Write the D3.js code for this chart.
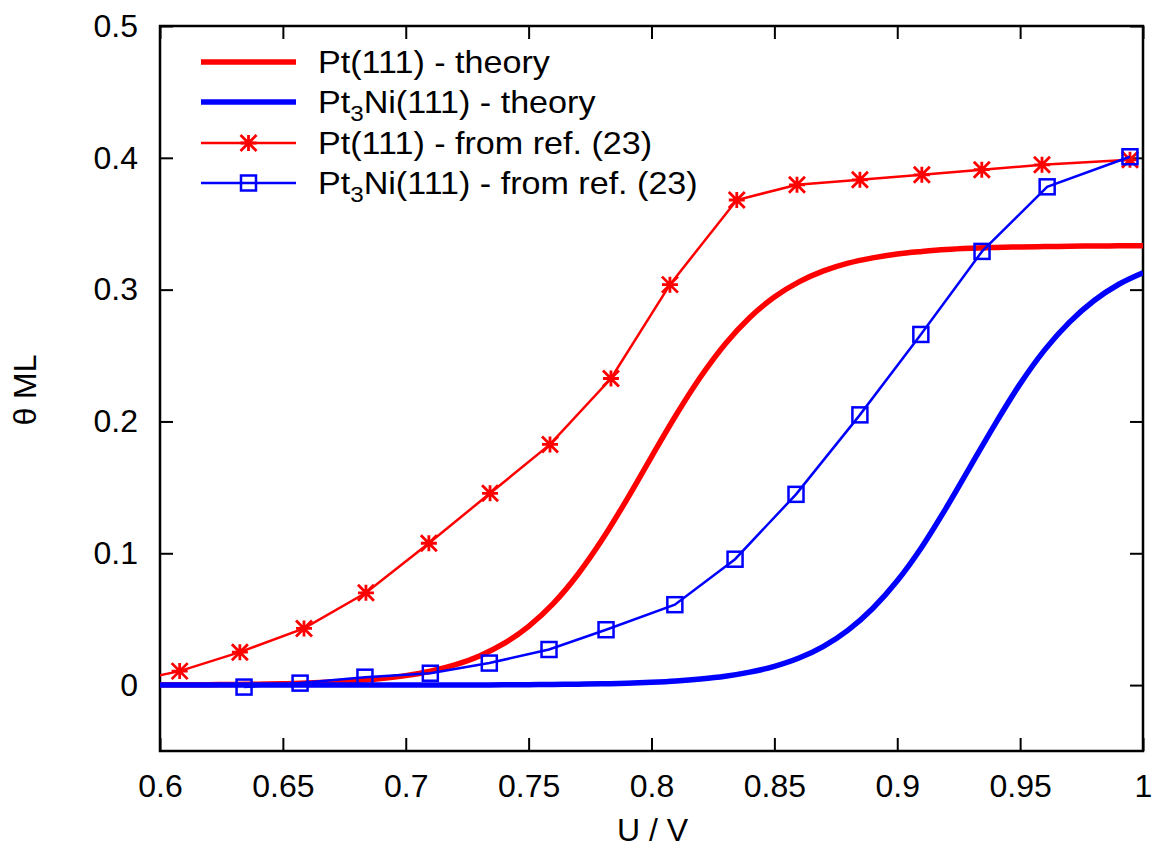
<!DOCTYPE html>
<html>
<head>
<meta charset="utf-8">
<script src="https://cdn.jsdelivr.net/npm/d3@7"></script>
<style>
  html, body { margin: 0; padding: 0; background: #fff; }
  svg { display: block; font-family: "Liberation Sans", Arial, Helvetica, sans-serif; }
</style>
</head>
<body>
<svg id="chart" width="1156" height="848"></svg>
<script>
// ---------- data ----------
const uTheory = [0.60,0.61,0.62,0.63,0.64,0.65,0.66,0.67,0.68,0.69,0.70,0.71,0.72,0.73,0.74,0.75,0.76,0.77,0.78,0.79,0.80,0.81,0.82,0.83,0.84,0.85,0.86,0.87,0.88,0.89,0.90,0.91,0.92,0.93,0.94,0.95,0.96,0.97,0.98,0.99,1.00];
const ptTheory = [0.0002,0.0002,0.0003,0.0005,0.0007,0.0010,0.0015,0.0023,0.0033,0.0049,0.0072,0.0105,0.0153,0.0221,0.0316,0.0446,0.0618,0.0839,0.1106,0.1409,0.1732,0.2049,0.2339,0.2588,0.2789,0.2944,0.3059,0.3142,0.3201,0.3241,0.3271,0.3290,0.3305,0.3314,0.3320,0.3324,0.3327,0.3329,0.3331,0.3332,0.3332];
const pt3niTheory = [0.0000,0.0000,0.0000,0.0000,0.0000,0.0000,0.0000,0.0000,0.0000,0.0000,0.0000,0.0001,0.0001,0.0001,0.0002,0.0003,0.0005,0.0007,0.0010,0.0014,0.0021,0.0031,0.0046,0.0067,0.0098,0.0142,0.0205,0.0294,0.0417,0.0581,0.0791,0.1048,0.1347,0.1667,0.1986,0.2285,0.2543,0.2752,0.2916,0.3039,0.3128];

const ptRefU     = [0.584,0.608,0.6325,0.6586,0.6838,0.7094,0.7343,0.7587,0.7835,0.8075,0.8347,0.8592,0.8848,0.9100,0.9344,0.9589,0.9947];
const ptRefTheta = [0.001,0.0106,0.025,0.043,0.070,0.1076,0.1455,0.1826,0.2326,0.3038,0.368,0.3795,0.3833,0.3871,0.391,0.3947,0.3985];
const ptRefShown = [false,true,true,true,true,true,true,true,true,true,true,true,true,true,true,true,true];

const pt3niRefU     = [0.6342,0.657,0.6834,0.710,0.734,0.7583,0.7815,0.8095,0.834,0.8588,0.8848,0.9096,0.9345,0.961,0.9947];
const pt3niRefTheta = [-0.0015,0.0015,0.006,0.009,0.0167,0.027,0.042,0.061,0.0955,0.1447,0.205,0.266,0.329,0.378,0.4008];

const xTicks = [0.6,0.65,0.7,0.75,0.8,0.85,0.9,0.95,1];
const xTickLabels = ["0.6","0.65","0.7","0.75","0.8","0.85","0.9","0.95","1"];
const yTicks = [0,0.1,0.2,0.3,0.4,0.5];
const yTickLabels = ["0","0.1","0.2","0.3","0.4","0.5"];

const legendLabels = [
  {main: "Pt(111) - theory"},
  {pre: "Pt", sub: "3", post: "Ni(111) - theory"},
  {main: "Pt(111) - from ref. (23)"},
  {pre: "Pt", sub: "3", post: "Ni(111) - from ref. (23)"}
];

// ---------- layout ----------
const RED = "#ff0000", BLUE = "#0000ff";
const pL = 160, pR = 1143, pT = 26, pB = 751;
const svg = d3.select("#chart");

const x = d3.scaleLinear().domain([0.6, 1]).range([pL, pR]);
const y = d3.scaleLinear().domain([-0.05, 0.5]).range([pB, pT]);

svg.append("clipPath").attr("id", "clip")
  .append("rect").attr("x", pL).attr("y", pT).attr("width", pR - pL).attr("height", pB - pT);

const tickLen = 13;
const fontTick = 32;

// axes
const gL = svg.append("g").attr("transform", `translate(${pL},0)`)
  .call(d3.axisLeft(y).tickValues(yTicks).tickFormat((d,i)=>yTickLabels[i]).tickSizeInner(-tickLen).tickSizeOuter(0).tickPadding(22));
const gB = svg.append("g").attr("transform", `translate(0,${pB})`)
  .call(d3.axisBottom(x).tickValues(xTicks).tickFormat((d,i)=>xTickLabels[i]).tickSizeInner(-tickLen).tickSizeOuter(0).tickPadding(23));
const gT = svg.append("g").attr("transform", `translate(0,${pT})`)
  .call(d3.axisTop(x).tickValues(xTicks).tickFormat("").tickSizeInner(-tickLen).tickSizeOuter(0));
const gR = svg.append("g").attr("transform", `translate(${pR},0)`)
  .call(d3.axisRight(y).tickValues(yTicks).tickFormat("").tickSizeInner(-tickLen).tickSizeOuter(0));

[gL, gB, gT, gR].forEach(g => {
  g.select(".domain").remove();
  g.selectAll(".tick line").attr("stroke", "#000").attr("stroke-width", 2);
  g.selectAll(".tick text").attr("fill", "#000").style("font-size", fontTick + "px")
    .style("font-family", '"Liberation Sans", Arial, Helvetica, sans-serif');
});

// plot frame
svg.append("rect").attr("x", pL).attr("y", pT).attr("width", pR - pL).attr("height", pB - pT)
  .attr("fill", "none").attr("stroke", "#000").attr("stroke-width", 2.5);

// axis titles
svg.append("text").attr("transform", `translate(36,390) rotate(-90)`).attr("text-anchor", "middle")
  .style("font-size", "32px").attr("fill", "#000").text("\u03B8 ML");
svg.append("text").attr("x", (pL + pR) / 2 + 1).attr("y", 841).attr("text-anchor", "middle")
  .style("font-size", "32px").attr("fill", "#000").text("U / V");

// ---------- series ----------
const plot = svg.append("g").attr("clip-path", "url(#clip)");

const smooth = d3.line().x(d => x(d[0])).y(d => y(d[1])).curve(d3.curveMonotoneX);
const straight = d3.line().x(d => x(d[0])).y(d => y(d[1]));

const ptTh = uTheory.map((u, i) => [u, ptTheory[i]]);
const niTh = uTheory.map((u, i) => [u, pt3niTheory[i]]);
const ptRef = ptRefU.map((u, i) => [u, ptRefTheta[i], ptRefShown[i]]);
const niRef = pt3niRefU.map((u, i) => [u, pt3niRefTheta[i]]);

plot.append("path").datum(ptTh).attr("d", smooth).attr("fill", "none").attr("stroke", RED).attr("stroke-width", 5.5);
plot.append("path").datum(niTh).attr("d", smooth).attr("fill", "none").attr("stroke", BLUE).attr("stroke-width", 5.5);

plot.append("path").datum(ptRef).attr("d", straight).attr("fill", "none").attr("stroke", RED).attr("stroke-width", 2.5);
function star(g, cx, cy, s, color) {
  const p = `M${cx - s},${cy}L${cx + s},${cy}M${cx},${cy - s}L${cx},${cy + s}` +
            `M${cx - s},${cy - s}L${cx + s},${cy + s}M${cx - s},${cy + s}L${cx + s},${cy - s}`;
  g.append("path").attr("d", p).attr("stroke", color).attr("stroke-width", 2.8).attr("fill", "none");
}
ptRef.filter(d => d[2]).forEach(d => star(plot, x(d[0]), y(d[1]), 8, RED));

plot.append("path").datum(niRef).attr("d", straight).attr("fill", "none").attr("stroke", BLUE).attr("stroke-width", 2.5);
plot.selectAll("rect.sq").data(niRef).enter().append("rect").attr("class", "sq")
  .attr("x", d => x(d[0]) - 7.5).attr("y", d => y(d[1]) - 7.5).attr("width", 15).attr("height", 15)
  .attr("fill", "none").attr("stroke", BLUE).attr("stroke-width", 2.5);

// ---------- legend ----------
const legRows = [62, 102, 143, 183];
const legX0 = 201, legX1 = 296, legTextX = 318;
const legStyles = [
  {color: RED, w: 5.5, marker: null},
  {color: BLUE, w: 5.5, marker: null},
  {color: RED, w: 2.5, marker: "star"},
  {color: BLUE, w: 2.5, marker: "square"}
];
legRows.forEach((ry, i) => {
  const st = legStyles[i];
  svg.append("line").attr("x1", legX0).attr("x2", legX1).attr("y1", ry).attr("y2", ry)
    .attr("stroke", st.color).attr("stroke-width", st.w);
  const mx = (legX0 + legX1) / 2;
  if (st.marker === "star") star(svg, mx, ry, 8, st.color);
  if (st.marker === "square") svg.append("rect").attr("x", mx - 7.5).attr("y", ry - 7.5).attr("width", 15).attr("height", 15)
    .attr("fill", "none").attr("stroke", st.color).attr("stroke-width", 2.5);
  const t = svg.append("text").attr("transform", `translate(${legTextX},${ry + 11}) scale(1.1,1)`)
    .style("font-size", "31px").attr("fill", "#000");
  const L = legendLabels[i];
  if (L.main) t.text(L.main);
  else {
    t.append("tspan").text(L.pre);
    t.append("tspan").attr("dy", 8).style("font-size", "22px").text(L.sub);
    t.append("tspan").attr("dy", -8).text(L.post);
  }
});
</script>
</body>
</html>
